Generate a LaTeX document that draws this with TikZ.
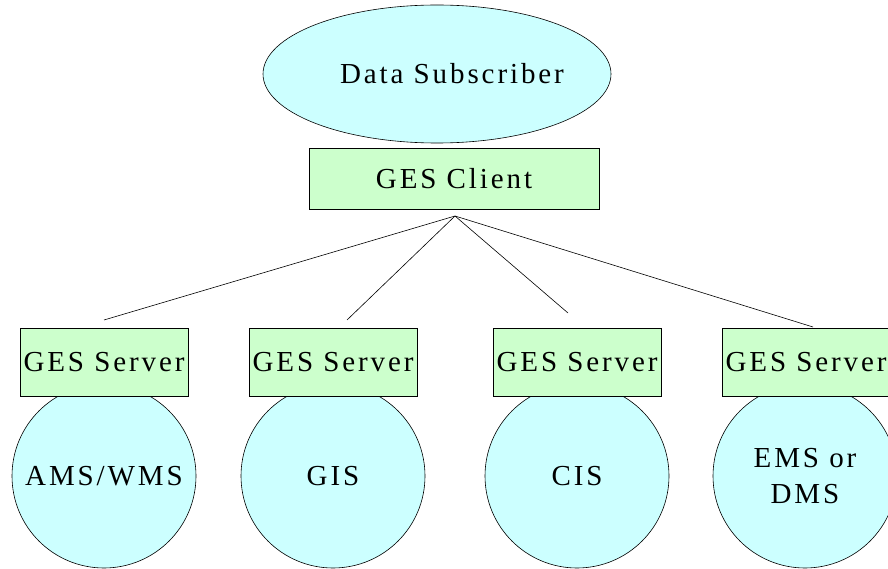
\documentclass[tikz,border=0pt]{standalone}
\usepackage{xcolor}
\usepackage{fontspec}
\setmainfont{Liberation Serif}[LetterSpace=10]
\usepackage{tikz}
\usetikzlibrary{shapes.geometric}

\definecolor{subcyan}{HTML}{CCFFFF}
\definecolor{gesgreen}{HTML}{CCFFCC}

\begin{document}
\begin{tikzpicture}[x=1pt,y=-1pt,line width=0.6pt,
  sysnode/.style={draw, circle, fill=subcyan, minimum size=184pt, inner sep=0pt, align=center},
  gesbox/.style={draw, rectangle, fill=gesgreen, minimum width=168pt, minimum height=68pt, inner sep=0pt}]
	\fontsize{29}{36}\selectfont
	\useasboundingbox (0,0) rectangle (888,569);
	% subscriber and client
	\node[draw, ellipse, fill=subcyan, minimum width=348pt, minimum height=138pt, inner sep=0pt] (sub) at (437,74) {\makebox[0pt]{\hspace*{30pt}Data Subscriber}};
	\node[draw, rectangle, fill=gesgreen, minimum width=290pt, minimum height=61pt, inner sep=0pt] (client) at (454,178.5) {GES Client};
	% systems with their servers
	\node[sysnode] (ams) at (104,476) {AMS/WMS};
	\node[sysnode] (gis) at (333,476) {GIS};
	\node[sysnode] (cis) at (577,476) {CIS};
	\node[sysnode] (ems) at (805,476) {EMS or\\DMS};
	\node[gesbox] (srvA) at (104,362) {GES Server};
	\node[gesbox] (srvB) at (333,362) {GES Server};
	\node[gesbox] (srvC) at (577,362) {GES Server};
	\node[gesbox] (srvD) at (806,362) {GES Server};
	% links
	\coordinate (hub) at (455,216);
	\coordinate (endA) at (104,320);
	\coordinate (endB) at (347,320);
	\coordinate (endC) at (568,313);
	\coordinate (endD) at (813,327);
	\foreach \e in {endA,endB,endC,endD}
		\draw (hub) -- (\e);
\end{tikzpicture}
\end{document}
